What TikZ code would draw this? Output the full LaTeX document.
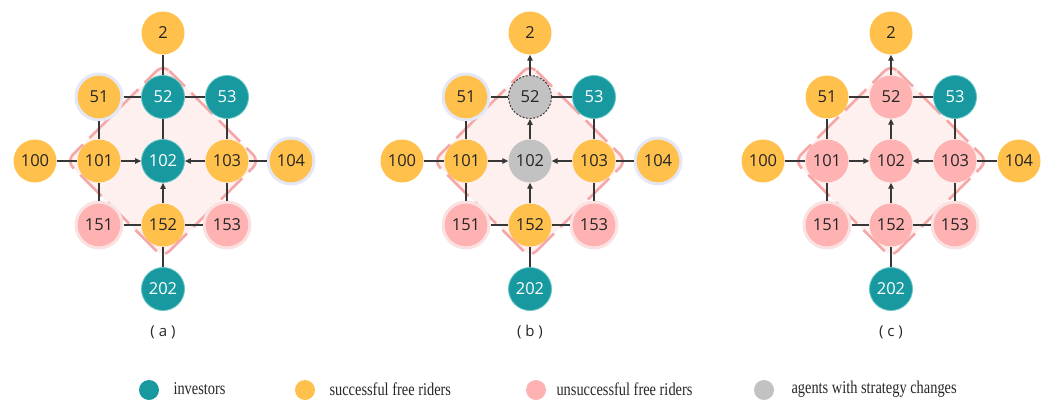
\documentclass[tikz,border=0pt]{standalone}
\usepackage{fontspec}
\usetikzlibrary{arrows.meta,calc}
\newfontfamily\nodefont{Open Sans}
\newfontfamily\legendfont{Liberation Serif}

\definecolor{invcol}{RGB}{24,153,160}
\definecolor{invrim}{RGB}{96,196,196}
\definecolor{frcol}{RGB}{255,192,76}
\definecolor{ufcol}{RGB}{255,178,178}
\definecolor{chcol}{RGB}{194,194,194}
\definecolor{lavhalo}{RGB}{228,231,248}
\definecolor{pinkhalo}{RGB}{251,226,226}
\definecolor{zonefill}{RGB}{253,240,238}
\definecolor{zoneline}{RGB}{246,168,168}
\definecolor{linkcol}{RGB}{55,55,55}

\tikzset{
  agent/.style={circle, inner sep=0pt, minimum size=43pt, font=\nodefont\fontsize{16.5}{16.5}\selectfont, text=black!85},
  inv/.style={agent, fill=invcol, draw=invrim, line width=0.8pt, text=white},
  fr/.style={agent, fill=frcol},
  uf/.style={agent, fill=ufcol},
  ch/.style={agent, fill=chcol},
  chd/.style={agent, fill=chcol, draw=black!80, line width=0.9pt, dash pattern=on 2pt off 1.6pt},
  frlav/.style={agent, fill=frcol, draw=lavhalo, line width=3pt, minimum size=46pt},
  ufpink/.style={agent, fill=ufcol, draw=pinkhalo, line width=3pt, minimum size=46pt},
  link/.style={draw=linkcol, line width=1.2pt},
  push/.style={link, -{Triangle[length=6pt,width=5.5pt]}},
  zone/.style={fill=zonefill, rounded corners=9pt},
  zoneedge/.style={draw=zoneline, line width=2.6pt, rounded corners=9pt, dash pattern=on 30pt off 9pt, dash phase=8pt},
  caption/.style={font=\nodefont\fontsize{15}{15}\selectfont, text=black!85},
  key/.style={circle, inner sep=0pt, minimum size=20pt},
  keytext/.style={anchor=west, font=\legendfont\fontsize{18}{18}\selectfont, text=black!85}
}

% shaded neighbourhood of the central agent
\newcommand\zonebox[1]{%
  \fill[zone] (#1,161-96.5) -- (#1+96.5,161) -- (#1,161+96.5) -- (#1-96.5,161) -- cycle;
  \draw[zoneedge] (#1,161-96.5) -- (#1+96.5,161) -- (#1,161+96.5) -- (#1-96.5,161) -- cycle;
}
% the lattice agents: name/dx/dy/style
\newcommand\agents[3]{%
  \foreach \n/\i/\j/\s in {#3} {\node[\s] (#1\n) at (#2+\i*64, 161+\j*64) {\n};}
}
% undirected neighbour links shared by all panels
\newcommand\links[1]{%
  \draw[link] (#151) -- (#152);
  \draw[link] (#152) -- (#153);
  \draw[link] (#151) -- (#1101);
  \draw[link] (#153) -- (#1103);
  \draw[link] (#1100) -- (#1101);
  \draw[link] (#1103) -- (#1104);
  \draw[link] (#1101) -- (#1151);
  \draw[link] (#1103) -- (#1153);
  \draw[link] (#1151) -- (#1152);
  \draw[link] (#1152) -- (#1153);
  \draw[link] (#1152) -- (#1202);
  \draw[push] (#1101) -- (#1102);
  \draw[push] (#1103) -- (#1102);
  \draw[push] (#1152) -- (#1102);
}

\begin{document}
\begin{tikzpicture}[x=1pt, y=-1pt]
\useasboundingbox (0,0) rectangle (1051,401);

% ---- panel (a)
\zonebox{163}
\agents{a}{163}{2/0/-2/fr, 51/-1/-1/frlav, 52/0/-1/inv, 53/1/-1/inv,
  100/-2/0/fr, 101/-1/0/fr, 102/0/0/inv, 103/1/0/fr, 104/2/0/frlav,
  151/-1/1/ufpink, 152/0/1/fr, 153/1/1/ufpink, 202/0/2/inv}
\links{a}
\draw[link] (a2) -- (a52);
\draw[link] (a52) -- (a102);
\node[caption] (capa) at (163,332) {( a )};

% ---- panel (b)
\zonebox{530}
\agents{b}{530}{2/0/-2/fr, 51/-1/-1/frlav, 52/0/-1/chd, 53/1/-1/inv,
  100/-2/0/fr, 101/-1/0/fr, 102/0/0/ch, 103/1/0/fr, 104/2/0/frlav,
  151/-1/1/ufpink, 152/0/1/fr, 153/1/1/ufpink, 202/0/2/inv}
\links{b}
\draw[push] (b52) -- (b2);
\draw[push] (b102) -- (b52);
\node[caption] (capb) at (530,332) {( b )};

% ---- panel (c)
\zonebox{891}
\agents{c}{891}{2/0/-2/fr, 51/-1/-1/fr, 52/0/-1/uf, 53/1/-1/inv,
  100/-2/0/fr, 101/-1/0/uf, 102/0/0/uf, 103/1/0/uf, 104/2/0/fr,
  151/-1/1/ufpink, 152/0/1/uf, 153/1/1/ufpink, 202/0/2/inv}
\links{c}
\draw[push] (c52) -- (c2);
\draw[push] (c102) -- (c52);
\node[caption] (capc) at (891,332) {( c )};

% ---- legend
\node[key, fill=invcol] (k1) at (149,390) {};
\node[keytext] (t1) at (170,389) {\scalebox{0.8}[1]{investors}};
\node[keytext] (t2) at (326,389) {\scalebox{0.8}[1]{successful free riders}};
\node[key, fill=frcol] (k2) at (305,390) {};
\node[key, fill=ufcol] (k3) at (536,390) {};
\node[keytext] (t3) at (553,389) {\scalebox{0.8}[1]{unsuccessful free riders}};
\node[key, fill=chcol] (k4) at (764,390) {};
\node[keytext] (t4) at (788,389) {\scalebox{0.8}[1]{agents with strategy changes}};
\end{tikzpicture}
\end{document}
